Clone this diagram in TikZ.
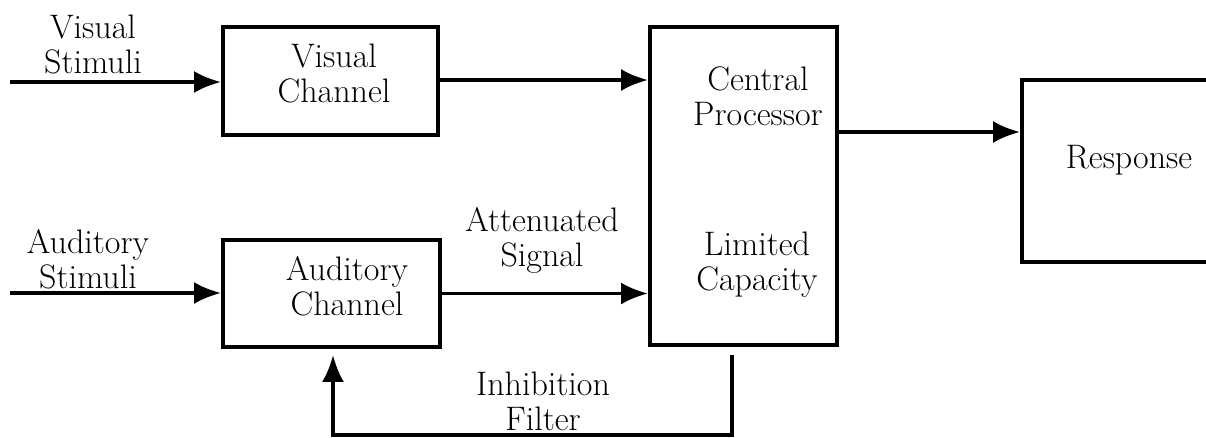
\documentclass[tikz,border=0pt]{standalone}
\usetikzlibrary{arrows.meta}
\begin{document}
\begin{tikzpicture}[x=1pt,y=-1pt,
  line width=3.8pt,
  box/.style={draw, rectangle, inner sep=0pt},
  txt/.style={align=center, inner sep=0pt, font=\rmfamily\fontsize{34}{35}\selectfont},
  flow/.style={-{Latex[length=27pt,width=22pt]}}]
  \clip (0,0) rectangle (1206,437);

  % blocks
  \node[box, minimum width=215pt, minimum height=108pt] (vc) at (330.5,81) {};
  \node[box, minimum width=217pt, minimum height=107pt] (ac) at (331.5,293.5) {};
  \node[box, minimum width=187pt, minimum height=318pt] (cp) at (743.5,186) {};
  \node[box, minimum width=230pt, minimum height=182pt] (resp) at (1137,171) {};

  % block texts
  \node[txt] (vcT) at (334,73) {Visual\\Channel};
  \node[txt] (acT) at (347,286) {Auditory\\Channel};
  \node[txt] (cpT) at (758,96) {Central\\Processor};
  \node[txt] (lcT) at (757,265) {Limited\\Capacity};
  \node[txt, anchor=base] (respT) at (1129,168) {Response};

  % connector labels
  \node[txt] (vsT) at (93,44) {Visual\\Stimuli};
  \node[txt] (asT) at (88,259) {Auditory\\Stimuli};
  \node[txt] (atT) at (542,240) {Attenuated\\Signal};
  \node[txt] (ifT) at (543,401) {Inhibition\\Filter};

  % free ends and routing points
  \coordinate (vsin) at (10,82);
  \coordinate (asin) at (10,293);
  \coordinate (outy) at (837,132);
  \coordinate (fbr) at (732,0);
  \coordinate (fbl) at (333,0);

  % connectors
  \draw[flow] (vsin) -- (vsin -| vc.west);
  \draw[flow] (asin) -- (asin -| ac.west);
  \draw[flow] (vc.east |- 0,80) -- (cp.west |- 0,80);
  \draw[flow] (ac.east) -- (ac.east -| cp.west);
  \draw[flow] (cp.east |- outy) -- (resp.west |- outy);
  \draw[flow, shorten <=8pt, shorten >=6pt]
    (cp.south -| fbr) -- ++(0,88) -| (ac.south -| fbl);
\end{tikzpicture}
\end{document}
